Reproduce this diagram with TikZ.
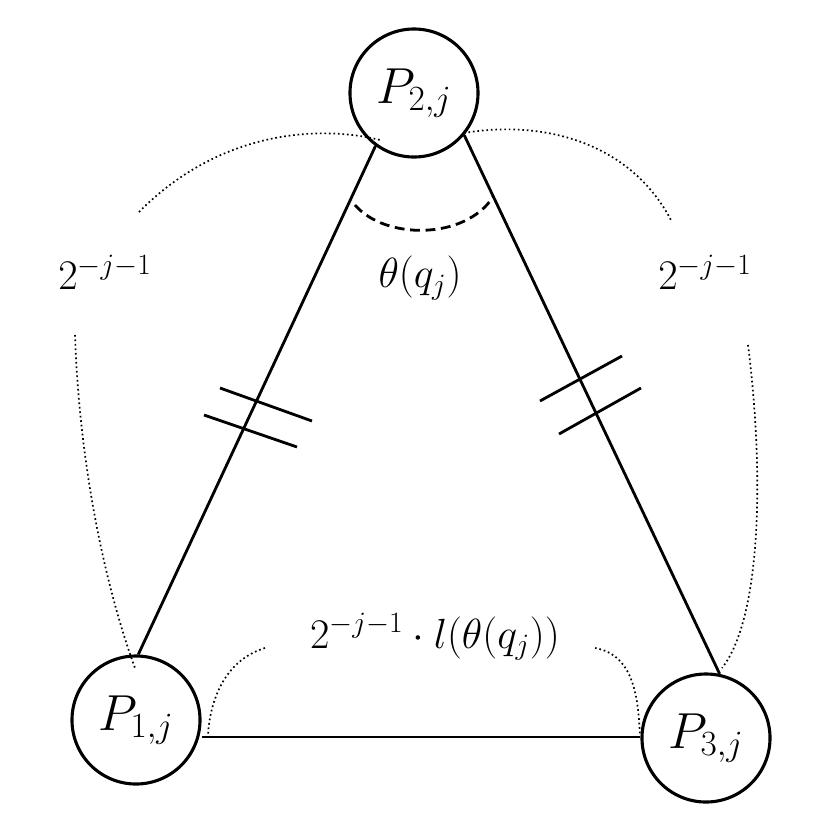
\RequirePackage{fix-cm}
\documentclass[tikz,border=0pt]{standalone}
\usepackage{amsmath}
\usetikzlibrary{positioning}
\tikzset{
  vertex/.style={circle, draw, line width=2.2pt, minimum size=3.2cm, inner sep=0pt,
                 font=\fontsize{36}{42}\selectfont},
  side/.style={line width=2pt},
  tick/.style={line width=2pt},
  guide/.style={dotted, line width=1.2pt},
  lbl/.style={font=\fontsize{30}{34}\selectfont},
}
\begin{document}
\begin{tikzpicture}[x=0.025cm, y=-0.025cm]
  \useasboundingbox (0,0) rectangle (830,830);

  %% Vertices
  \node[vertex] (p2) at (414,93)  {$P_{2,j}$};
  \node[vertex] (p1) at (136,720) {$P_{1,j}$};
  \node[vertex] (p3) at (706,738) {$P_{3,j}$};

  %% Sides
  \draw[side] (p2.-126) -- (p1.88);
  \draw[side] (p2.-40) -- (p3.78);
  \draw[side] (p1.east |- 0,737) -- (p3.west |- 0,737);

  %% Equal-length ticks
  \draw[tick] (220,388) -- (312,421);
  \draw[tick] (204,415) -- (297,447);
  \draw[tick] (540,401) -- (622,356);
  \draw[tick] (559,434) -- (641,388);

  %% Angle
  \draw[dash pattern=on 7pt off 4pt, line width=2pt] (355,205) .. controls (385,240) and (465,240) .. (493,197);
  \node[lbl] (ang) at (420,278) {$\theta(q_j)$};

  %% Length labels
  \node[lbl] (ll) at (105,272) {$2^{-j-1}$};
  \node[lbl] (lr) at (705,272) {$2^{-j-1}$};
  \node[lbl] (lb) at (435,637) {$2^{-j-1}\cdot l(\theta(q_j))$};

  %% Dotted guides
  \draw[guide] (139,212) .. controls (220,130) and (320,125) .. (380,140);
  \draw[guide] (75,335) .. controls (80,480) and (110,600) .. (135,668);
  \draw[guide] (464,133) .. controls (540,120) and (630,140) .. (672,222);
  \draw[guide] (748,345) .. controls (765,480) and (760,620) .. (722,668);
  \draw[guide] (265,648) .. controls (225,660) and (210,700) .. (208,735);
  \draw[guide] (595,648) .. controls (635,655) and (638,700) .. (640,735);
\end{tikzpicture}
\end{document}
